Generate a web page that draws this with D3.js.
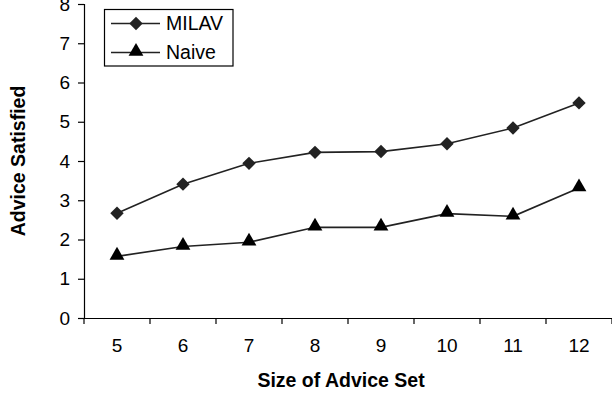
<!DOCTYPE html>
<html>
<head>
<meta charset="utf-8">
<script src="https://cdn.jsdelivr.net/npm/d3@7"></script>
<style>
  body { margin: 0; background: #fff; }
  svg { display: block; }
  text { font-family: "Liberation Sans", Arial, sans-serif; fill: #000; }
</style>
</head>
<body>
<script>
// Data
const sizes = ['5', '6', '7', '8', '9', '10', '11', '12'];
const milav = [2.67, 3.41, 3.94, 4.22, 4.24, 4.44, 4.84, 5.48];
const naive = [1.57, 1.82, 1.93, 2.31, 2.31, 2.66, 2.59, 3.31];
const yTicks = [0, 1, 2, 3, 4, 5, 6, 7, 8];
const seriesNames = ['MILAV', 'Naive'];

const width = 612, height = 394;
const margins = { top: 4, bottom: 76, left: 84, right: 0 };

const svg = d3.select('body')
  .append('svg')
  .attr('width', width)
  .attr('height', height);

// Scales
const x = d3.scaleBand()
  .domain(sizes)
  .range([margins.left, width - margins.right])
  .padding(0);

const y = d3.scaleLinear()
  .domain([0, 8])
  .range([height - margins.bottom, margins.top]);

const x0 = y(0);

// Y axis
const yAxis = svg.append('g')
  .attr('transform', `translate(${margins.left},0)`)
  .call(d3.axisLeft(y).tickValues(yTicks).tickSize(6).tickPadding(8).tickFormat(d3.format('d')));
yAxis.selectAll('path, line').attr('stroke', '#000').attr('stroke-width', 1.2);
yAxis.selectAll('text').style('font-size', '19px');

// X axis: labels at band centres, ticks at band boundaries
const xAxis = svg.append('g')
  .attr('transform', `translate(0,${x0})`)
  .call(d3.axisBottom(x).tickSize(0).tickPadding(21));
xAxis.select('.domain').attr('stroke', '#000').attr('stroke-width', 1.2);
xAxis.selectAll('text').style('font-size', '19px');

const bounds = sizes.map(d => x(d)).concat([x(sizes[sizes.length - 1]) + x.bandwidth()]);
xAxis.selectAll('.bound')
  .data(bounds)
  .join('line')
  .attr('class', 'bound')
  .attr('x1', d => d).attr('x2', d => d)
  .attr('y1', 0).attr('y2', 6)
  .attr('stroke', '#000')
  .attr('stroke-width', 1.2);

// Axis titles
svg.append('text')
  .attr('x', 341)
  .attr('y', 387)
  .attr('text-anchor', 'middle')
  .style('font-size', '19.5px')
  .style('font-weight', 'bold')
  .text('Size of Advice Set');

svg.append('text')
  .attr('transform', `translate(25,${(margins.top + x0) / 2}) rotate(-90)`)
  .attr('text-anchor', 'middle')
  .style('font-size', '19.5px')
  .style('font-weight', 'bold')
  .text('Advice Satisfied');

// Lines and markers
const cx = d => x(d) + x.bandwidth() / 2;
const line = d3.line()
  .x(d => cx(d.k))
  .y(d => y(d.v));

const diamond = d3.symbol().type(d3.symbolSquare).size(90);
const triangle = d3.symbol().type(d3.symbolTriangle).size(95);

const series = [
  { name: seriesNames[0], values: milav, shape: 'diamond', color: '#222' },
  { name: seriesNames[1], values: naive, shape: 'triangle', color: '#000' },
];

function drawMarker(g, s) {
  if (s.shape === 'diamond')
    return g.append('path').attr('d', diamond).attr('transform', 'rotate(45)').attr('fill', s.color);
  return g.append('path').attr('d', triangle).attr('transform', 'translate(0,-1)').attr('fill', s.color);
}

series.forEach(s => {
  const pts = sizes.map((k, i) => ({ k, v: s.values[i] }));

  svg.append('path')
    .datum(pts)
    .attr('fill', 'none')
    .attr('stroke', '#222')
    .attr('stroke-width', 1.6)
    .attr('d', line);

  svg.selectAll(null)
    .data(pts)
    .join('g')
    .attr('transform', d => `translate(${cx(d.k)},${y(d.v)})`)
    .each(function() { drawMarker(d3.select(this), s); });
});

// Legend
const legend = svg.append('g');
legend.append('rect')
  .attr('x', 104.5).attr('y', 9.5)
  .attr('width', 128.5).attr('height', 56.5)
  .attr('fill', '#fff')
  .attr('stroke', '#000')
  .attr('stroke-width', 1.2);

series.forEach((s, i) => {
  const ly = 23.5 + i * 29;
  legend.append('line')
    .attr('x1', 111).attr('x2', 160)
    .attr('y1', ly).attr('y2', ly)
    .attr('stroke', '#222')
    .attr('stroke-width', 1.6);
  drawMarker(legend.append('g').attr('transform', `translate(136,${ly})`), s);
  legend.append('text')
    .attr('x', 166)
    .attr('y', ly)
    .attr('dy', '0.35em')
    .style('font-size', '19.5px')
    .text(s.name);
});
</script>
</body>
</html>
